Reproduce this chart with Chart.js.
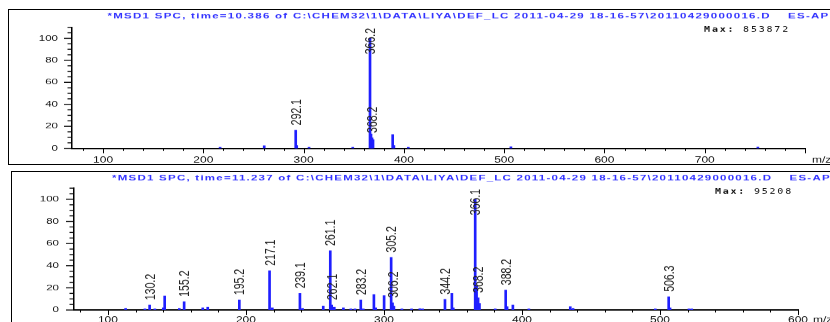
<!DOCTYPE html>
<html>
<head>
<meta charset="utf-8">
<script src="https://cdn.jsdelivr.net/npm/chart.js@4.4.1/dist/chart.umd.min.js"></script>
<style>
html, body { margin: 0; padding: 0; background: #fff; overflow: hidden; width: 830px; height: 322px; }
.panel { position: absolute; border: 1px solid #000; background: #fff; overflow: hidden; box-sizing: border-box; }
#panel1 { left: 8px; top: 9px; width: 870px; height: 156px; }
#panel2 { left: 11px; top: 171px; width: 870px; height: 170px; }
/* ChemStation printouts come out flattened, so the canvas is squeezed vertically */
.panel canvas { position: absolute; left: 0; top: 0; transform: scaleY(0.7); transform-origin: 0 0; }
</style>
</head>
<body>
<div class="panel" id="panel1"><canvas id="spec1" width="850" height="220"></canvas></div>
<div class="panel" id="panel2"><canvas id="spec2" width="850" height="225"></canvas></div>
<script>
// spectrum at 10.386 min
var spec1Mz  = [216.7, 260.7, 292.1, 293.1, 305.4, 349.0, 366.2, 367.2, 368.2, 369.2, 388.8, 390.0, 404.4, 506.7, 753.0];
var spec1Int = [1.0, 2.4, 16.5, 2.5, 1.0, 1.0, 100, 13, 9.5, 8, 12.5, 2.5, 1.0, 1.5, 1.2];
var spec1Tagged = [292.1, 366.2, 368.2];
var spec1XTicks = [100, 200, 300, 400, 500, 600, 700];
var spec1Max = '853872';
var spec1Title = '*MSD1 SPC, time=10.386 of C:\\CHEM32\\1\\DATA\\LIYA\\DEF_LC 2011-04-29 18-16-57\\20110429000016.D';

// spectrum at 11.237 min
var spec2Mz  = [112.8, 126.8, 130.2, 134.0, 140.1, 141.1, 151.7, 155.2, 168.7, 172.3, 195.2, 217.1, 219.1, 239.1, 241.0,
                256.0, 261.1, 262.1, 264.0, 270.6, 276.0, 279.0, 283.2, 285.0, 292.7, 294.0, 300.1, 305.2, 306.2, 307.2,
                313.0, 320.0, 326.0, 328.0, 344.2, 349.2, 350.2, 366.1, 367.1, 368.2, 369.2, 380.6, 388.2, 389.2, 393.4,
                405.0, 435.0, 437.0, 496.6, 506.3, 507.3, 521.0, 523.0];
var spec2Int = [1.5, 1.0, 4.5, 1.0, 2.0, 12.7, 1.5, 7.5, 2.0, 2.5, 9.0, 35.5, 2.0, 15.0, 1.5,
                3.6, 53.5, 4.5, 2.5, 2.0, 1.0, 1.0, 9.0, 1.0, 14.0, 2.0, 13.0, 47.5, 6.5, 3.5,
                1.0, 1.0, 1.2, 1.0, 9.6, 15.0, 2.0, 100, 22, 11, 6, 1.0, 18.0, 3.0, 4.5,
                1.0, 3.0, 1.5, 1.0, 12.0, 2.0, 1.0, 1.0];
var spec2Tagged = [130.2, 155.2, 195.2, 217.1, 239.1, 261.1, 262.1, 283.2, 305.2, 306.2, 344.2, 366.1, 368.2, 388.2, 506.3];
var spec2XTicks = [100, 200, 300, 400, 500, 600];
var spec2Max = '95208';
var spec2Title = '*MSD1 SPC, time=11.237 of C:\\CHEM32\\1\\DATA\\LIYA\\DEF_LC 2011-04-29 18-16-57\\20110429000016.D';

var yTicks = [0, 20, 40, 60, 80, 100];
var modeText = 'ES-API, Pos, Scan';

var FONT = '"Liberation Sans", Arial, sans-serif';

// ticks, peak labels and header text
function specDecor(s) {
  return {
    id: 'specDecor',
    afterDraw: function (chart) {
      var ctx = chart.ctx, xs = chart.scales.x, ys = chart.scales.y, area = chart.chartArea;
      ctx.save();
      ctx.strokeStyle = '#000';

      // x ticks, minor every 20, major every 100
      ctx.lineWidth = 1;
      for (var v = Math.ceil(xs.min / 20) * 20; v <= xs.max; v += 20) {
        var px = Math.round(xs.getPixelForValue(v)) + 0.5;
        var len = v % 100 === 0 ? 7 : 3.5;
        ctx.beginPath(); ctx.moveTo(px, area.bottom); ctx.lineTo(px, area.bottom + len); ctx.stroke();
      }
      // y ticks, minor every 5, major every 20
      ctx.lineWidth = 1.4;
      for (var w = 0; w <= ys.max; w += 5) {
        var py = ys.getPixelForValue(w);
        var l = w % 20 === 0 ? 8 : 4.5;
        ctx.beginPath(); ctx.moveTo(area.left - l, py); ctx.lineTo(area.left, py); ctx.stroke();
      }

      // rotated m/z labels over the tagged peaks
      var meta = chart.getDatasetMeta(0);
      ctx.font = '15px ' + FONT;
      ctx.fillStyle = '#222';
      ctx.textAlign = 'left';
      ctx.textBaseline = 'middle';
      s.tagged.forEach(function (mz) {
        var bar = meta.data[s.mz.indexOf(mz)];
        var txt = mz.toFixed(1);
        var tl = ctx.measureText(txt).width;
        var start = bar.y - 7;
        if (start - tl < area.top + 1) start = area.top + 1 + tl;
        ctx.save();
        ctx.translate(bar.x + 1, start);
        ctx.rotate(-Math.PI / 2);
        ctx.fillText(txt, 0, 0);
        ctx.restore();
      });

      // m/z axis caption
      ctx.font = '12px ' + FONT;
      ctx.fillStyle = '#111';
      ctx.fillText('m/z', s.unitX, area.bottom + xs.options.ticks.padding + 7.2);

      // header line, spread out to the printout width
      ctx.font = 'bold 11.5px ' + FONT;
      ctx.fillStyle = '#3333ff';
      ctx.textBaseline = 'alphabetic';
      ctx.letterSpacing = '0px';
      var tw = ctx.measureText(s.title).width;
      var sp = (s.titleWidth - tw) / (s.title.length - 1);
      ctx.letterSpacing = sp + 'px';
      ctx.fillText(s.title, s.titleX, 12);
      ctx.fillText(modeText, s.titleX + s.titleWidth + 18.5, 12);

      // Max: abundance of the base peak
      ctx.fillStyle = '#111';
      ctx.letterSpacing = '1.8px';
      ctx.font = '10px "DejaVu Sans Mono", monospace';
      var nw = ctx.measureText(s.maxValue).width;
      ctx.fillText(s.maxValue, s.maxRight - nw, 31);
      ctx.font = 'bold 10px "DejaVu Sans Mono", monospace';
      ctx.fillText('Max:', s.maxRight - nw - 39, 31);
      ctx.restore();
    }
  };
}

function makeSpectrum(id, mz, inten, xTicks, s) {
  var points = mz.map(function (m, i) { return { x: m, y: inten[i] }; });
  return new Chart(document.getElementById(id), {
    type: 'bar',
    data: {
      datasets: [{
        data: points,
        backgroundColor: '#1f1fff',
        borderWidth: 0,
        barThickness: 2
      }]
    },
    options: {
      responsive: false,
      animation: false,
      devicePixelRatio: 1,
      layout: { padding: { top: s.padTop, right: s.padRight, left: 0, bottom: 0 } },
      plugins: { legend: { display: false }, tooltip: { enabled: false } },
      scales: {
        x: {
          type: 'linear',
          offset: false,
          min: s.xMin,
          max: s.xMax,
          grid: { display: false, drawTicks: false, offset: false },
          border: { display: true, color: '#000', width: 2 },
          ticks: { autoSkip: false, maxRotation: 0, padding: s.xPad, color: '#111', font: { family: FONT, size: 12 } },
          afterBuildTicks: function (sc) { sc.ticks = xTicks.map(function (v) { return { value: v }; }); },
          afterFit: function (sc) { sc.height = s.xHeight; }
        },
        y: {
          min: 0,
          max: 110,
          grid: { display: false, drawTicks: false },
          border: { display: true, color: '#000', width: 1.5 },
          ticks: { padding: s.yPad, color: '#111', font: { family: FONT, size: 11.5 } },
          afterBuildTicks: function (sc) { sc.ticks = yTicks.map(function (v) { return { value: v }; }); },
          afterFit: function (sc) { sc.width = s.yWidth; }
        }
      }
    },
    plugins: [specDecor(s)]
  });
}

makeSpectrum('spec1', spec1Mz, spec1Int, spec1XTicks, {
  mz: spec1Mz, tagged: spec1Tagged, title: spec1Title, maxValue: spec1Max,
  xMin: 69, xMax: 800, padTop: 24.7, padRight: 54, xHeight: 22.4, xPad: 9.5, yPad: 14, yWidth: 63,
  titleX: 98.5, titleWidth: 662, maxRight: 781, unitX: 803
});

makeSpectrum('spec2', spec2Mz, spec2Int, spec2XTicks, {
  mz: spec2Mz, tagged: spec2Tagged, title: spec2Title, maxValue: spec2Max,
  xMin: 75.4, xMax: 600, padTop: 23.1, padRight: 64, xHeight: 27.9, xPad: 7.6, yPad: 15, yWidth: 62,
  titleX: 100, titleWidth: 659, maxRight: 781, unitX: 801
});
</script>
</body>
</html>
